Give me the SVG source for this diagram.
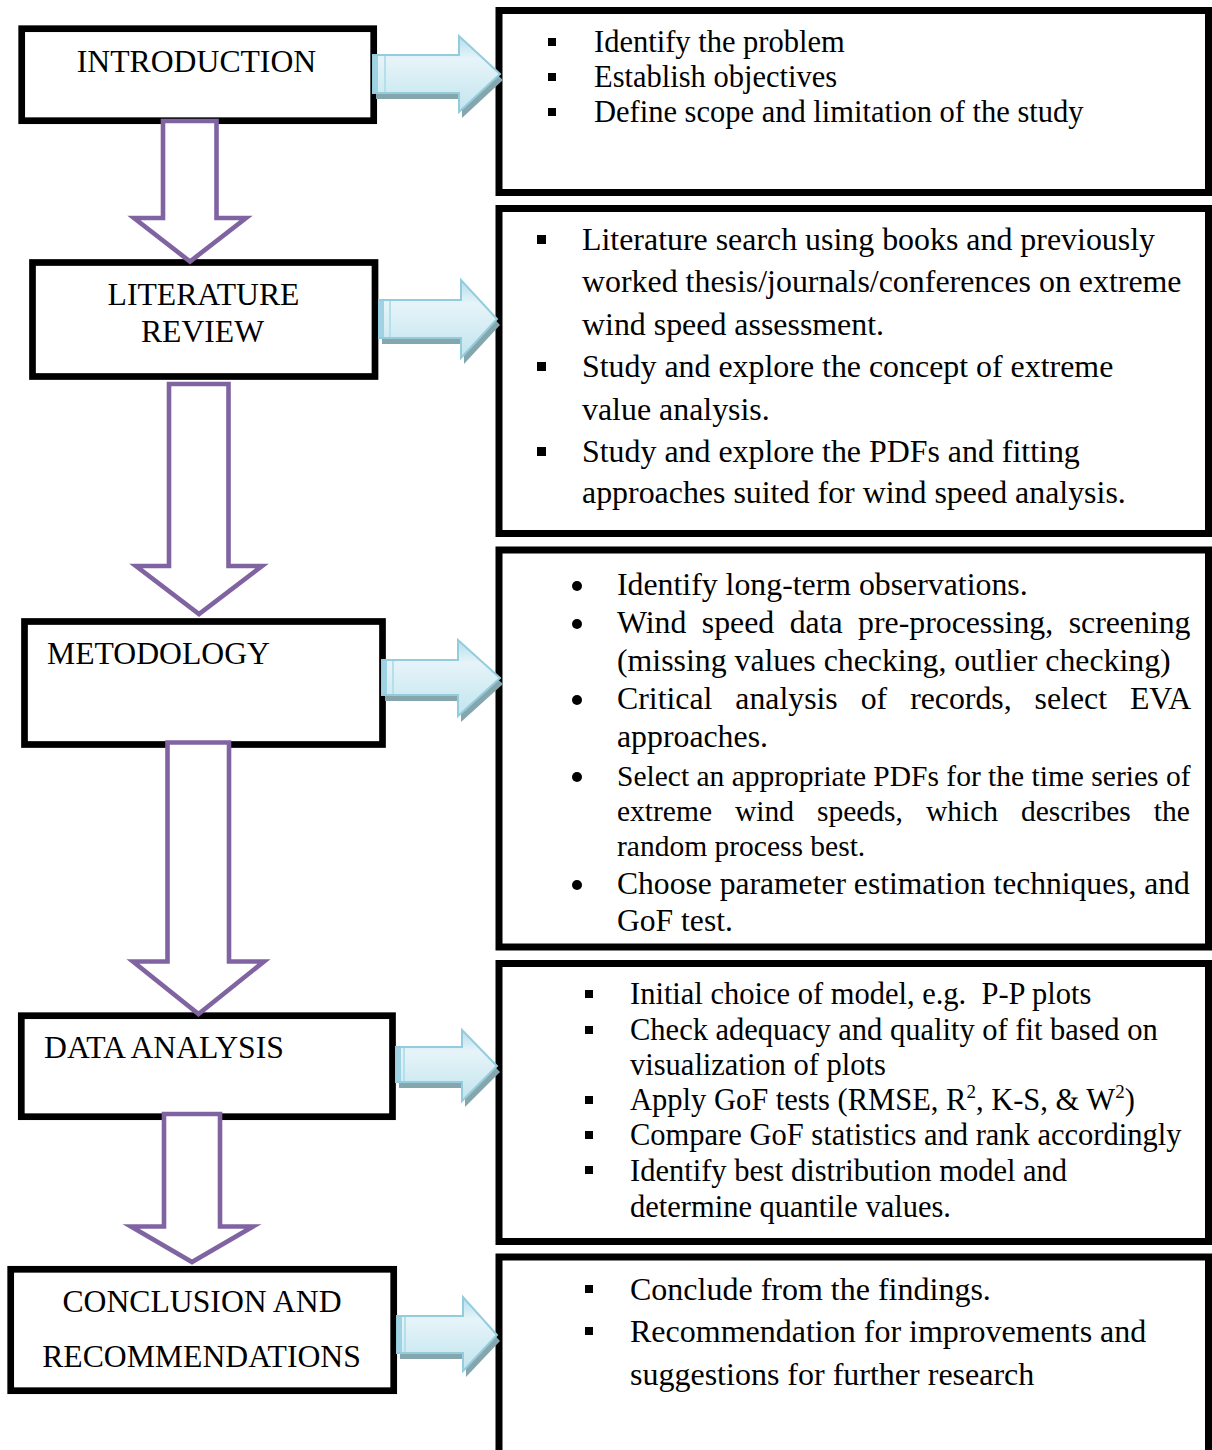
<svg xmlns="http://www.w3.org/2000/svg" width="1212" height="1450" viewBox="0 0 1212 1450">
<style>
  .box { fill: #ffffff; stroke: #000000; stroke-width: 7; }
  .lbox { fill: #ffffff; stroke: #000000; stroke-width: 6.7; }
  .lbl { font-family: "Liberation Serif", "Times New Roman", serif; font-size: 31.7px; fill: #000000; }
  .t { font-family: "Liberation Serif", "Times New Roman", serif; fill: #000000; }
  .f30 { font-size: 30.5px; }
  .f295 { font-size: 29.5px; }
  .f31 { font-size: 31.9px; }
  .f32 { font-size: 31.8px; }
  .f32b { font-size: 32px; }
  .sup { font-size: 19px; }
  .sq { fill: #000000; }
  .down { fill: #ffffff; stroke: #8064A2; stroke-width: 4.6; stroke-linejoin: miter; }
  .right { fill: url(#blueGrad); stroke: #93cddd; stroke-width: 2; stroke-linejoin: miter; }
  .shadow { fill: #86a6ad; }
  .band { fill: #9fd3e3; }
  .bandline { stroke: #b5dfeb; stroke-width: 2; }
</style>
<defs>
  <linearGradient id="blueGrad" x1="0" y1="0" x2="0" y2="1">
    <stop offset="0" stop-color="#b3deeb"/>
    <stop offset="0.3" stop-color="#e6f4f9"/>
    <stop offset="1" stop-color="#c2e4ee"/>
  </linearGradient>
</defs>
<rect x="0" y="0" width="1212" height="1450" fill="#ffffff"/>

<!-- Right description boxes -->
<g id="desc-introduction">
  <rect class="box" x="499" y="10.5" width="709.5" height="182"/>
  <rect class="sq" x="548" y="38" width="8" height="8"/>
  <rect class="sq" x="548" y="73" width="8" height="8"/>
  <rect class="sq" x="548" y="108" width="8" height="8"/>
  <text class="t f30" x="594" y="52">Identify the problem</text>
  <text class="t f30" x="594" y="87">Establish objectives</text>
  <text class="t f30" x="594" y="122">Define scope and limitation of the study</text>
</g>

<g id="desc-literature">
  <rect class="box" x="499" y="208.5" width="709.5" height="325"/>
  <rect class="sq" x="537" y="235" width="9" height="9"/>
  <rect class="sq" x="537" y="362" width="9" height="9"/>
  <rect class="sq" x="537" y="447" width="9" height="9"/>
  <text class="t f31" x="582" y="250">Literature search using books and previously</text>
  <text class="t f31" x="582" y="292">worked thesis/journals/conferences on extreme</text>
  <text class="t f31" x="582" y="335">wind speed assessment.</text>
  <text class="t f31" x="582" y="377">Study and explore the concept of extreme</text>
  <text class="t f31" x="582" y="420">value analysis.</text>
  <text class="t f31" x="582" y="462">Study and explore the PDFs and fitting</text>
  <text class="t f31" x="582" y="503">approaches suited for wind speed analysis.</text>
</g>

<g id="desc-methodology">
  <rect class="box" x="499" y="550" width="709.5" height="397"/>
  <circle class="sq" cx="577" cy="586" r="5"/>
  <circle class="sq" cx="577" cy="624" r="5"/>
  <circle class="sq" cx="577" cy="700" r="5"/>
  <circle class="sq" cx="577" cy="777" r="5"/>
  <circle class="sq" cx="577" cy="885" r="5"/>
  <text class="t f32" x="617" y="595">Identify long-term observations.</text>
  <text class="t f32" x="617" y="633" style="word-spacing:7.5px">Wind speed data pre-processing, screening</text>
  <text class="t f32" x="617" y="671">(missing values checking, outlier checking)</text>
  <text class="t f32" x="617" y="709" style="word-spacing:15px">Critical analysis of records, select EVA</text>
  <text class="t f32" x="617" y="747">approaches.</text>
  <text class="t f295" x="617" y="786">Select an appropriate PDFs for the time series of</text>
  <text class="t f295" x="617" y="821" style="word-spacing:15.6px">extreme wind speeds, which describes the</text>
  <text class="t f295" x="617" y="856">random process best.</text>
  <text class="t f31" x="617" y="894" style="font-size:31.6px">Choose parameter estimation techniques, and</text>
  <text class="t f31" x="617" y="931" style="font-size:31.6px">GoF test.</text>
</g>

<g id="desc-analysis">
  <rect class="box" x="499" y="963.5" width="709.5" height="278"/>
  <rect class="sq" x="585" y="990" width="8" height="8"/>
  <rect class="sq" x="585" y="1026" width="8" height="8"/>
  <rect class="sq" x="585" y="1096" width="8" height="8"/>
  <rect class="sq" x="585" y="1131" width="8" height="8"/>
  <rect class="sq" x="585" y="1166" width="8" height="8"/>
  <text class="t f30" x="630" y="1004" xml:space="preserve">Initial choice of model, e.g.  P-P plots</text>
  <text class="t f30" x="630" y="1040">Check adequacy and quality of fit based on</text>
  <text class="t f30" x="630" y="1075">visualization of plots</text>
  <text class="t f30" x="630" y="1110">Apply GoF tests (RMSE, R<tspan class="sup" dy="-12">2</tspan><tspan dy="12">, K-S, &amp; W</tspan><tspan class="sup" dy="-12">2</tspan><tspan dy="12">)</tspan></text>
  <text class="t f30" x="630" y="1145">Compare GoF statistics and rank accordingly</text>
  <text class="t f30" x="630" y="1181">Identify best distribution model and</text>
  <text class="t f30" x="630" y="1217">determine quantile values.</text>
</g>

<g id="desc-conclusion">
  <rect class="box" x="499" y="1257" width="709.5" height="200"/>
  <rect class="sq" x="585" y="1285" width="8" height="8"/>
  <rect class="sq" x="585" y="1327" width="8" height="8"/>
  <text class="t f32b" x="630" y="1300">Conclude from the findings.</text>
  <text class="t f32b" x="630" y="1342">Recommendation for improvements and</text>
  <text class="t f32b" x="630" y="1385">suggestions for further research</text>
</g>

<!-- Left stage boxes -->
<g id="node-introduction">
  <rect class="lbox" x="21.7" y="28.7" width="352" height="92"/>
  <text class="lbl" x="196.5" y="72" text-anchor="middle">INTRODUCTION</text>
</g>
<g id="node-literature">
  <rect class="lbox" x="32.5" y="262.5" width="342.5" height="114"/>
  <text class="lbl" x="203.5" y="305" text-anchor="middle">LITERATURE</text>
  <text class="lbl" x="202.5" y="342" text-anchor="middle">REVIEW</text>
</g>
<g id="node-methodology">
  <rect class="lbox" x="24.5" y="621.5" width="358" height="123"/>
  <text class="lbl" x="47" y="664">METODOLOGY</text>
</g>
<g id="node-analysis">
  <rect class="lbox" x="21.3" y="1015.7" width="371.2" height="101"/>
  <text class="lbl" x="44" y="1058">DATA ANALYSIS</text>
</g>
<g id="node-conclusion">
  <rect class="lbox" x="10.7" y="1269.3" width="383" height="121.4"/>
  <text class="lbl" x="202" y="1312" text-anchor="middle">CONCLUSION AND</text>
  <text class="lbl" x="201.5" y="1367" text-anchor="middle">RECOMMENDATIONS</text>
</g>

<!-- Connectors -->
<g id="connectors">
  <!-- purple down arrows -->
  <polygon class="down" points="163,121 216.5,121 216.5,218 246,218 190,261.5 134,218 163,218"/>
  <polygon class="down" points="169,384 228.5,384 228.5,566 262,566 199,614 136,566 169,566"/>
  <polygon class="down" points="167.5,742.5 229,742.5 229,961.5 264,961.5 198.5,1014 133,961.5 167.5,961.5"/>
  <polygon class="down" points="164,1114 220,1114 220,1226.5 253,1226.5 192,1262 131,1226.5 164,1226.5"/>

  <!-- blue right arrows -->
  <g>
    <polygon class="shadow" transform="translate(3,6)" points="373,55 459,55 459,36 500,74 459,112 459,93 373,93"/>
    <polygon class="right" points="373,55 459,55 459,36 500,74 459,112 459,93 373,93"/>
    <rect class="band" x="373" y="56" width="5" height="36"/>
    <line class="bandline" x1="385" y1="56" x2="385" y2="92"/>
  </g>
  <g>
    <polygon class="shadow" transform="translate(3,6)" points="379,300 461,300 461,280 497,319 461,358 461,338 379,338"/>
    <polygon class="right" points="379,300 461,300 461,280 497,319 461,358 461,338 379,338"/>
    <rect class="band" x="379" y="301" width="5" height="36"/>
    <line class="bandline" x1="390" y1="301" x2="390" y2="337"/>
  </g>
  <g>
    <polygon class="shadow" transform="translate(3,6)" points="382,660 458,660 458,640 500,678 458,716 458,695 382,695"/>
    <polygon class="right" points="382,660 458,660 458,640 500,678 458,716 458,695 382,695"/>
    <rect class="band" x="382" y="661" width="5" height="33"/>
    <line class="bandline" x1="393" y1="661" x2="393" y2="694"/>
  </g>
  <g>
    <polygon class="shadow" transform="translate(3,6)" points="396,1047 462,1047 462,1030 497,1066 462,1101 462,1082 396,1082"/>
    <polygon class="right" points="396,1047 462,1047 462,1030 497,1066 462,1101 462,1082 396,1082"/>
    <rect class="band" x="396" y="1048" width="5" height="33"/>
    <line class="bandline" x1="404" y1="1048" x2="404" y2="1081"/>
  </g>
  <g>
    <polygon class="shadow" transform="translate(3,6)" points="397,1316 463,1316 463,1297 497,1335 463,1371 463,1353 397,1353"/>
    <polygon class="right" points="397,1316 463,1316 463,1297 497,1335 463,1371 463,1353 397,1353"/>
    <rect class="band" x="397" y="1317" width="5" height="35"/>
    <line class="bandline" x1="405" y1="1317" x2="405" y2="1352"/>
  </g>
</g>
</svg>
